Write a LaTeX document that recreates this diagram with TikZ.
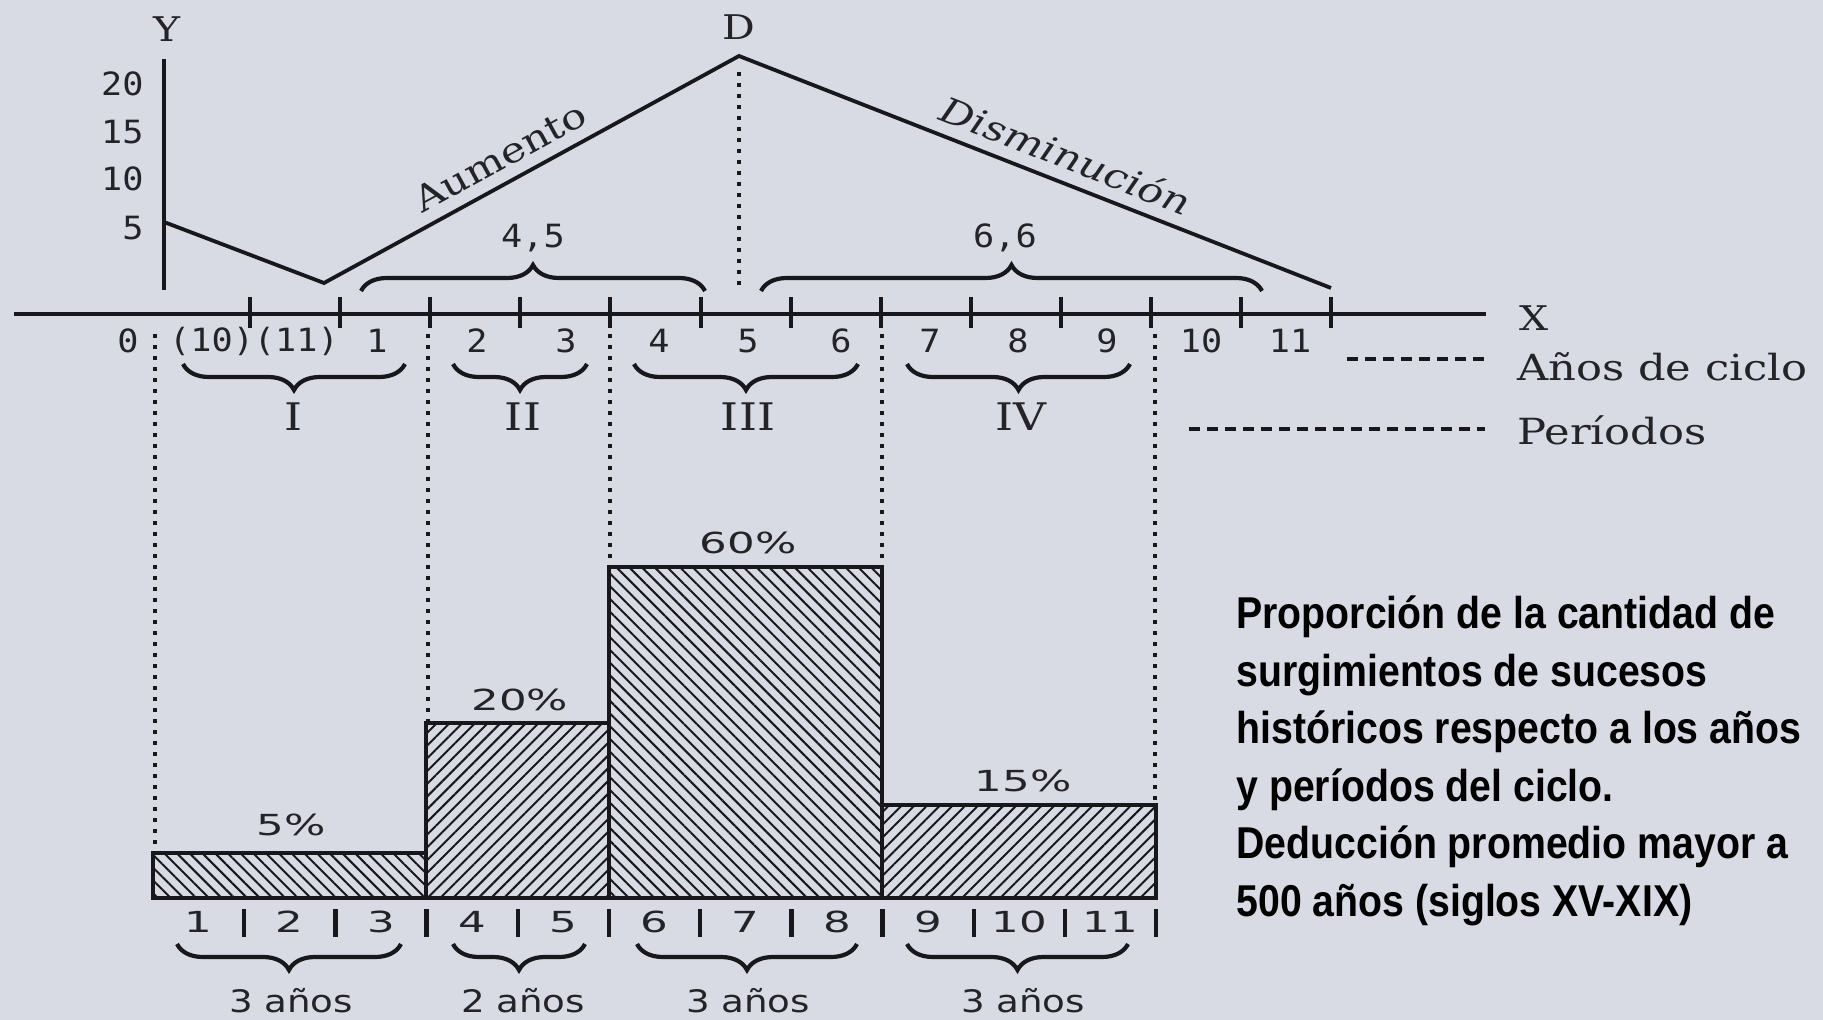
\documentclass[tikz,border=0pt]{standalone}
\usepackage{fontspec}
\usetikzlibrary{decorations.pathreplacing,patterns.meta}
\newfontfamily\monof[FakeStretch=1.1]{DejaVu Sans Mono}
\newfontfamily\pctf[FakeStretch=1.5]{DejaVu Sans}
\newfontfamily\anof[FakeStretch=1.2]{DejaVu Sans}
\newfontfamily\serf[FakeStretch=1.2]{DejaVu Serif}
\newfontfamily\capf[FakeStretch=0.88]{Liberation Sans}
\definecolor{bgc}{RGB}{216,219,228}
\definecolor{inkc}{RGB}{24,24,28}
\definecolor{txtc}{RGB}{35,35,40}
\begin{document}
\begin{tikzpicture}[x=0.5pt,y=-0.5pt,
  axisline/.style={line width=2pt,draw=inkc},
  curveline/.style={line width=1.9pt,draw=inkc,line join=miter},
  tickmark/.style={line width=2pt,draw=inkc},
  dotline/.style={line width=2.4pt,draw=inkc,dash pattern=on 2.2pt off 3.3pt},
  legdash/.style={line width=1.7pt,draw=inkc,dash pattern=on 5.5pt off 3.5pt},
  braceup/.style={decorate,decoration={brace,amplitude=13pt},line width=2.1pt,draw=inkc},
  bracedown/.style={decorate,decoration={brace,amplitude=13pt,mirror},line width=2.1pt,draw=inkc},
  barbox/.style={line width=2pt,draw=inkc,pattern color=inkc},
  sepbar/.style={line width=2.2pt,draw=inkc},
  monolab/.style={font=\monof\fontsize{16}{19}\selectfont,text=txtc,inner sep=0pt},
  pctlab/.style={font=\pctf\fontsize{14.5}{17}\selectfont,text=txtc,inner sep=0pt},
  anolab/.style={font=\anof\fontsize{15.5}{18}\selectfont,text=txtc,inner sep=0pt},
  serlab/.style={font=\serf\fontsize{17}{20}\selectfont,text=txtc,inner sep=0pt},
  romlab/.style={font=\serf\fontsize{19}{22}\selectfont,text=txtc,inner sep=0pt},
  leglab/.style={font=\serf\fontsize{18}{22}\selectfont,text=txtc,inner sep=0pt,anchor=base west},
  caplab/.style={font=\capf\bfseries\fontsize{22.3}{28}\selectfont,text=black,inner sep=0pt,anchor=base west}
]
\useasboundingbox (0,0) rectangle (1823,1020);
\fill[bgc] (0,0) rectangle (1823,1020);

% ---- axes ----
\coordinate (xs) at (14,314);
\coordinate (xe) at (1486,314);
\coordinate (ytop) at (164,59);
\coordinate (ybot) at (164,290);
\draw[axisline] (xs) -- (xe);
\draw[axisline] (ytop) -- (ybot);
\node[serlab] (ylab) at (167,29) {Y};
\node[serlab] (xlab) at (1534,318) {X};
\node[monolab,anchor=east] (y20) at (144,84) {20};
\node[monolab,anchor=east] (y15) at (144,132) {15};
\node[monolab,anchor=east] (y10) at (144,179) {10};
\node[monolab,anchor=east] (y5) at (144,228) {5};

% ticks
\foreach \k in {0,...,12}
  \draw[tickmark] ({250+90.1*\k},297) -- ({250+90.1*\k},328);

% tick labels
\node[monolab] (t0) at (128,341) {0};
\node[monolab] (t1011) at (254,341) {(10)(11)};
\foreach \lab/\xx in {1/377,2/477,3/566,4/659,5/748,6/841,7/930,8/1018,9/1107,10/1201,11/1290}
  \node[monolab] (t\lab) at (\xx,341) {\lab};

% ---- cycle curve ----
\coordinate (c0) at (164,222);
\coordinate (cmin) at (324,283);
\coordinate (cD) at (739,56);
\coordinate (cend) at (1331,288);
\draw[curveline] (c0) -- (cmin) -- (cD) -- (cend);
\node[serlab] (Dlab) at (739,27) {D};
\node[serlab,font=\serf\fontsize{17.5}{20}\selectfont,rotate=28.7] (aum) at (500,157) {Aumento};
\node[serlab,font=\serf\itshape\fontsize{17.5}{20}\selectfont,rotate=-21.4] (dis) at (1066,155) {Disminución};
\coordinate (dbot) at (739,287);
\draw[dotline] ([yshift=-8pt]cD) -- (dbot);

% upper braces
\coordinate (b45a) at (361,291); \coordinate (b45b) at (705,291);
\coordinate (b66a) at (761,291); \coordinate (b66b) at (1262,291);
\draw[braceup] (b45a) -- (b45b);
\draw[braceup] (b66a) -- (b66b);
\node[monolab] (l45) at (533,238) {4,5};
\node[monolab] (l66) at (1005,238) {6,6};

% period braces
\foreach \nm/\xa/\xb/\xm/\rl in {p1/183/405/294/I, p2/453/587/523/II, p3/634/858/748/III, p4/907/1130/1021/IV}{
  \coordinate (\nm a) at (\xa,364);
  \coordinate (\nm b) at (\xb,364);
  \draw[bracedown] (\nm a) -- (\nm b);
  \node[romlab] (\nm lab) at (\xm,417) {\rl};
}

% legend
\coordinate (lg1a) at (1347,359); \coordinate (lg1b) at (1485,359);
\coordinate (lg2a) at (1189,429); \coordinate (lg2b) at (1485,429);
\draw[legdash] (lg1a) -- (lg1b);
\draw[legdash] (lg2a) -- (lg2b);
\node[leglab] (leg1) at (1517,381) {Años de ciclo};
\node[leglab] (leg2) at (1517,445) {Períodos};

% ---- histogram ----
\draw[barbox,pattern={Lines[angle=-45,distance=4.5pt,line width=1pt]}] (153,853) rectangle (426,898);
\draw[barbox,pattern={Lines[angle=45,distance=4.5pt,line width=1pt]}] (426,723) rectangle (609,898);
\draw[barbox,pattern={Lines[angle=-45,distance=4.5pt,line width=1pt]}] (609,567) rectangle (882,898);
\draw[barbox,pattern={Lines[angle=45,distance=4.5pt,line width=1pt]}] (882,805) rectangle (1156,898);

% dotted guides
\foreach \xx/\yy in {155/851,428/721,610/565,882/565,1155/803}
  \draw[dotline] (\xx,334) -- (\xx,\yy);

% percent labels
\node[pctlab] (pc1) at (291,825) {5\%};
\node[pctlab] (pc2) at (520,700) {20\%};
\node[pctlab] (pc3) at (748,543) {60\%};
\node[pctlab] (pc4) at (1023,781) {15\%};

% bottom years
\foreach \n in {1,...,11}{
  \node[pctlab] (yr\n) at ({153+91.2*(\n-0.5)},922) {\n};
  \draw[sepbar] ({153+91.2*\n},909) -- ({153+91.2*\n},937);
}

% bottom braces
\foreach \nm/\xa/\xb/\xm/\tx in {q1/177/401/291/3, q2/453/585/523/2, q3/637/857/748/3, q4/907/1128/1023/3}{
  \coordinate (\nm a) at (\xa,944);
  \coordinate (\nm b) at (\xb,944);
  \draw[bracedown] (\nm a) -- (\nm b);
  \node[anolab] (\nm lab) at (\xm,1001) {\tx{} años};
}

% caption
\node[caplab] (cap1) at (1236,628) {Proporción de la cantidad de};
\node[caplab] (cap2) at (1236,686) {surgimientos de sucesos};
\node[caplab] (cap3) at (1236,743) {históricos respecto a los años};
\node[caplab] (cap4) at (1236,801) {y períodos del ciclo.};
\node[caplab] (cap5) at (1236,858) {Deducción promedio mayor a};
\node[caplab] (cap6) at (1236,916) {500 años (siglos XV-XIX)};
\end{tikzpicture}
\end{document}
